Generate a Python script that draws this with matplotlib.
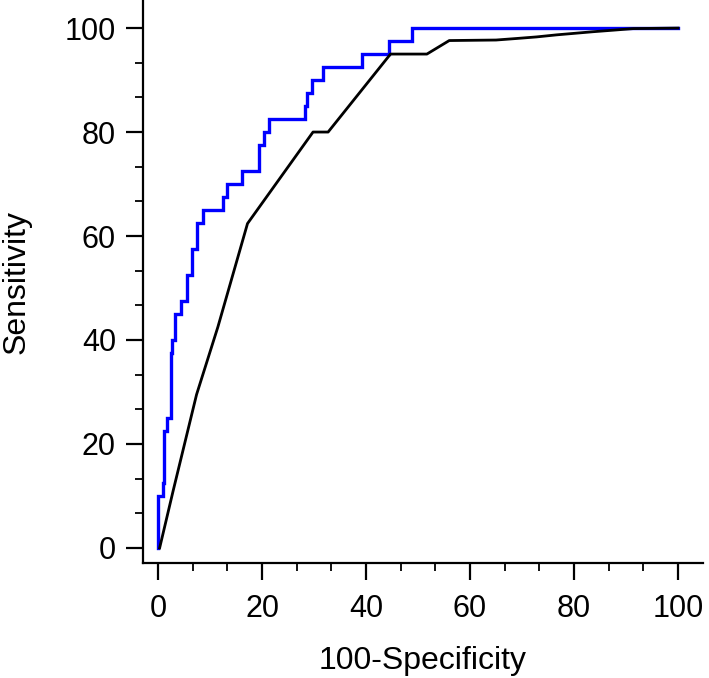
import matplotlib
matplotlib.use("Agg")
import matplotlib.pyplot as plt
from matplotlib.ticker import AutoMinorLocator

# ROC curve 1 (blue, empirical staircase) - corner points, drawn with steps-post
blue_fpr = [0, 0, 0.9, 1.2, 1.7, 2.4, 2.7, 3.3, 4.4, 5.6, 6.6, 7.4, 8.7, 12.4,
            13.2, 16.1, 19.5, 20.4, 21.4, 28.2, 28.6, 29.6, 31.7, 39.2, 44.5, 48.8, 100]
blue_tpr = [0, 10, 12.5, 22.5, 25, 37.5, 40, 45, 47.5, 52.5, 57.5, 62.5, 65, 67.5,
            70, 72.5, 77.5, 80, 82.5, 85, 87.5, 90, 92.5, 95, 97.5, 100, 100]

# ROC curve 2 (black)
black_fpr = [0.3, 2.9, 7.4, 11.5, 17.2, 29.8, 32.7, 44.7, 51.7, 56, 65, 69, 72.8,
             76.7, 80.2, 83.7, 87.6, 91.4, 100]
black_tpr = [0, 11, 29.5, 42.5, 62.4, 80, 80, 95, 95, 97.6, 97.7, 98.0, 98.3,
             98.7, 99.0, 99.3, 99.6, 99.9, 100]

x_ticks = [0, 20, 40, 60, 80, 100]
y_ticks = [0, 20, 40, 60, 80, 100]

plt.rcParams['font.family'] = ['Liberation Sans', 'DejaVu Sans']

fig = plt.figure(figsize=(7.09, 6.78), dpi=100)
ax = fig.add_axes([143 / 709, 1 - 563 / 678, 560 / 709, 563 / 678])

ax.plot(blue_fpr, blue_tpr, color='#0000ff', lw=2.4, drawstyle='steps-post',
        solid_joinstyle='miter', zorder=3)
ax.plot(black_fpr, black_tpr, color='black', lw=2.0, zorder=4)

ax.set_xlim(-2.9, 104.8)
ax.set_ylim(-2.9, 105.4)

ax.set_xticks(x_ticks)
ax.set_yticks(y_ticks)
ax.xaxis.set_minor_locator(AutoMinorLocator(3))
ax.yaxis.set_minor_locator(AutoMinorLocator(3))

for side in ['top', 'right']:
    ax.spines[side].set_visible(False)
for side in ['left', 'bottom']:
    ax.spines[side].set_linewidth(1.6)

ax.tick_params(which='major', direction='out', length=12.5, width=1.6,
               labelsize=22, pad=7)
ax.tick_params(axis='x', which='major', pad=10)
ax.tick_params(which='minor', direction='out', length=6, width=1.3)

ax.set_xlabel('100-Specificity', fontsize=23, labelpad=16)
ax.set_ylabel('Sensitivity', fontsize=23, labelpad=24)

fig.savefig('out.png', dpi=100)
